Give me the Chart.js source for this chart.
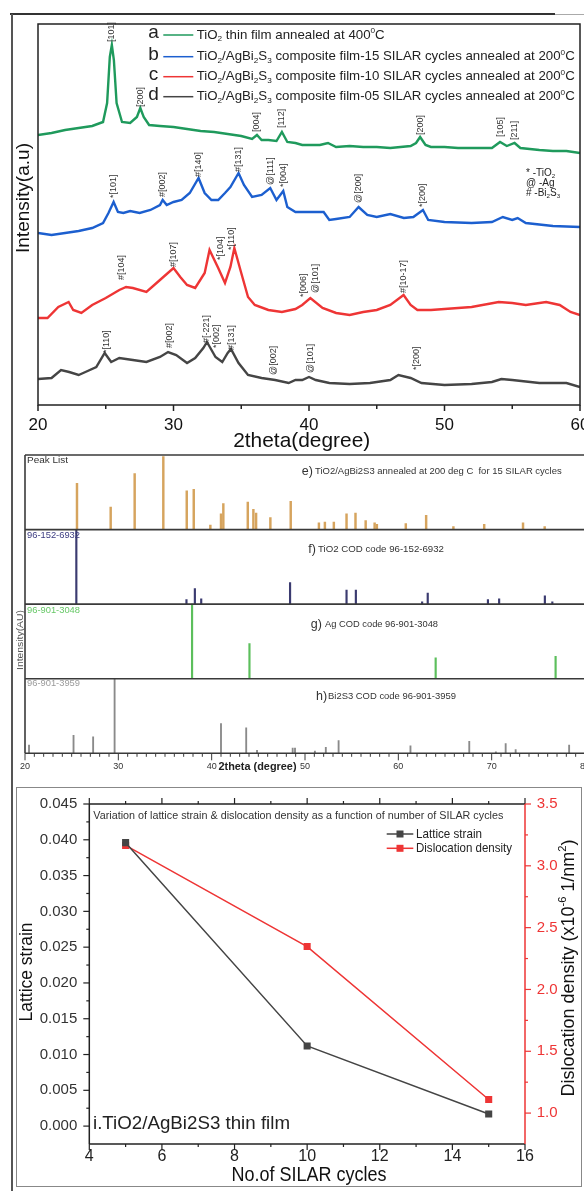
<!DOCTYPE html>
<html>
<head>
<meta charset="utf-8">
<script src="https://cdn.jsdelivr.net/npm/chart.js@4.4.1/dist/chart.umd.min.js"></script>
<style>
  html, body { margin: 0; padding: 0; background: #fff; width: 584px; height: 1191px; overflow: hidden; position: relative; }
  canvas { position: absolute; left: 0; }
  .rule { position: absolute; }
</style>
</head>
<body>
<div class="rule" style="left:10px;top:13px;width:545px;height:2px;background:#333"></div>
<div class="rule" style="left:555px;top:14px;width:29px;height:1px;background:#aaa"></div>
<div class="rule" style="left:11px;top:14px;width:1.5px;height:1177px;background:#555"></div>
<div class="rule" style="left:16px;top:787px;width:566px;height:400px;border:1px solid #888;box-sizing:border-box"></div>

<canvas id="xrdChart" width="600" height="460" style="top:0"></canvas>
<canvas id="refChart" width="600" height="345" style="top:440px"></canvas>
<canvas id="strainChart" width="584" height="411" style="top:780px"></canvas>

<script>
const FONT = "'Liberation Sans', Arial, sans-serif";

// ---- XRD patterns (2theta in degree, intensity in a.u.) ----
// a: TiO2 annealed at 400 C
const thetaA = [20,21,22,23,24,24.8,25.1,25.3,25.45,25.6,25.8,26.2,26.8,27.3,27.55,27.8,28.2,29,30,31,32,33,34,35,35.8,36.16,36.5,37,37.6,38,38.4,39,39.5,40,40.8,41.4,42,43,44,45,46,47.5,47.9,48.2,48.6,49,50,51,52,53.5,54.1,54.6,55.17,55.6,57,58,59,60];
const intA = [268,270,273,275,277,281,300,346,358,343,300,281,280,286,295,286,278,277,276,274,272,271,269,267,264,268,263,263,262,271,261,260,258,258,258,260,256,257,256,256,255,257,260,266,258,256,256,255,255,255,261,257,260,255,253,252,252,250];
// b: 15 SILAR cycles
const thetaB = [20,21,22,23,24,24.8,25.2,25.58,25.9,26.3,26.8,27.5,28.3,29,29.2,29.5,30,30.6,31.2,31.85,32.3,32.8,33.3,33.8,34.2,34.8,35.2,35.8,36.5,37.14,37.6,38.1,38.4,39,40,41.08,41.5,42,43,43.66,44.3,45,46,47,47.7,48.41,48.8,50,52,53.5,54.3,55,55.4,56,58,60];
const intB = [170,168,170,172,175,180,190,201,191,190,192,190,193,198,203,198,201,203,210,225,210,203,203,210,216,230,218,206,208,215,203,212,196,191,191,191,183,184,186,196,188,186,189,185,186,193,183,181,180,181,186,183,185,180,177,176];
// c: 10 SILAR cycles
const thetaC = [20,20.7,21.5,22.26,22.6,23.2,24,25,26,26.5,27,28,29,30,30.5,31,31.6,32.3,32.66,33.3,33.8,34.2,34.49,35,35.5,36,37,38,39,39.5,40.1,41,42,43,44,45,46,46.98,47.5,48,49,50,52,54,55,56,57.5,58.5,59.3,60];
const intC = [85,85,96,101,93,90,98,105,113,116,115,111,123,135,126,118,115,130,153,135,120,136,155,130,106,98,93,91,94,98,105,95,90,88,91,93,98,108,98,93,93,94,96,101,100,98,101,98,91,88];
// d: 05 SILAR cycles
const thetaD = [20,21,21.7,22.3,23,23.5,24.3,24.92,25.4,26,27,28,29,29.6,30.2,31,31.6,32.2,32.47,33.1,33.6,34,34.24,34.8,35.5,36.5,37.5,38.5,39,39.5,40,40.5,41.5,43,44.5,46,46.6,47.5,48.3,50,52,53.5,54.2,55,57,59,60];
const intD = [24,25,33,31,28,31,36,50,41,45,43,41,46,51,48,40,45,55,61,46,41,50,54,40,28,25,23,20,23,23,26,23,20,19,20,23,28,25,20,18,19,21,24,23,20,20,16];

// peak annotations on the XRD patterns
const peakText = ['[101]','[200]','[004]','[112]','[200]','[105]','[211]',
  '*[101]','#[002]','#[140]','#[131]','@[111]','*[004]','@[200]','*[200]',
  '#[104]','#[107]','*[104]','*[110]','*[006]','@[101]','#[10-17]',
  '*[110]','#[002]','#[-221]','*[002]','#[131]','@[002]','@[101]','*[200]'];
const peakTheta = [25.45,27.55,36.16,38.0,48.2,54.1,55.2, 25.58,29.2,31.85,34.8,37.14,38.1,43.66,48.41,
  26.2,30.0,33.45,34.25,39.6,40.46,46.98, 25.09,29.69,32.45,33.2,34.3,37.4,40.1,47.97];
const peakBase = [361,296,271,275,268,266,263, 205,206,226,231,218,216,200,196,
  123,136,143,153,106,110,110, 50,55,60,55,53,28,30,33];

// ---- reference stick patterns (2theta, relative height %) ----
const ePos = [25.57,29.18,31.75,34.82,37.33,38.08,39.86,41.0,41.25,43.87,44.47,44.76,46.29,48.47,51.49,52.13,53.09,54.45,55.41,56.5,57.46,57.7,60.8,62.98,65.9,69.2,73.36,75.68];
const eHt = [62,30,75,98,52,54,6,21,35,37,27,22,16,38,9,10,10,21,22,12,9,7,8,19,4,7,9,4];
const fPos = [25.5,37.3,38.2,38.88,48.4,54.45,55.45,62.55,63.15,69.6,70.8,75.7,76.5];
const fHt = [100,6,21,7,29,19,19,3,15,6,7,11,3];
const gPos = [37.9,44.05,64.0,76.85];
const gHt = [100,47,28,30];
const hPos = [20.43,25.2,27.3,29.6,41.0,43.7,44.86,48.68,48.93,51.06,52.23,53.6,61.3,67.6,70.45,71.5,72.57,78.3];
const hHt = [11,24,22,100,40,34,4,7,7,3,8,17,10,16,2,13,5,11];

// ---- lattice strain & dislocation density ----
const cycles = [5, 10, 15];
const strain = [0.0396, 0.0112, 0.0017];
const disloc = [3.165, 2.347, 1.11];

const GREEN = '#1f9a5c', BLUE = '#1c5fcf', RED = '#ee3535', DARK = '#454545';

function pts(xs, ys) { return xs.map((x, i) => ({ x: x, y: ys[i] })); }

function line(ctx, x1, y1, x2, y2) {
  ctx.beginPath(); ctx.moveTo(x1, y1); ctx.lineTo(x2, y2); ctx.stroke();
}

// text with sub (_) and super (^) script runs, optionally stretched to a width
function rich(ctx, parts, x, y, o) {
  if (typeof parts === 'string') parts = [parts];
  const fam = o.family || FONT, wt = o.weight || 'normal';
  ctx.save();
  const runs = parts.map(p => {
    const k = p[0] === '_' ? 1 : p[0] === '^' ? -1 : 0;
    const s = k ? p.slice(1) : p;
    const f = wt + ' ' + (k ? o.size * 0.62 : o.size) + 'px ' + fam;
    ctx.font = f;
    return { s: s, k: k, f: f, w: ctx.measureText(s).width };
  });
  const total = runs.reduce((t, r) => t + r.w, 0);
  ctx.translate(x, y);
  if (o.rotate) ctx.rotate(o.rotate);
  ctx.scale(o.width ? o.width / total : 1, 1);
  let cx = o.align === 'center' ? -total / 2 : o.align === 'right' ? -total : 0;
  ctx.fillStyle = o.color || '#222';
  ctx.textBaseline = 'middle';
  ctx.textAlign = 'left';
  runs.forEach(r => {
    ctx.font = r.f;
    ctx.fillText(r.s, cx, r.k > 0 ? o.size * 0.3 : r.k < 0 ? -o.size * 0.33 : 0);
    cx += r.w;
  });
  ctx.restore();
}

Chart.defaults.font.family = FONT;
Chart.defaults.animation = false;

// ================= top: XRD patterns =================
const xrdDecor = {
  id: 'xrdDecor',
  afterDatasetsDraw(chart) {
    const { ctx, chartArea: a, scales: { x, y } } = chart;
    ctx.save();
    ctx.strokeStyle = '#222';
    ctx.lineWidth = 1.5;
    ctx.strokeRect(a.left, a.top, a.right - a.left, a.bottom - a.top);
    for (let v = 20; v <= 60; v += 5) {
      const px = x.getPixelForValue(v);
      line(ctx, px, a.bottom, px, a.bottom + (v % 10 === 0 ? 6 : 4));
    }
    peakText.forEach((t, i) => {
      rich(ctx, t, x.getPixelForValue(peakTheta[i]), y.getPixelForValue(peakBase[i]),
        { size: 9, color: '#333', rotate: -Math.PI / 2 });
    });
    // legend
    const letters = ['a', 'b', 'c', 'd'];
    const cols = [GREEN, BLUE, RED, DARK];
    const rows = [35, 56.7, 76.7, 96.7];
    const texts = [
      ['TiO', '_2', ' thin film annealed at 400', '^0', 'C'],
      ['TiO', '_2', '/AgBi', '_2', 'S', '_3', ' composite film-15 SILAR cycles annealed at 200', '^0', 'C'],
      ['TiO', '_2', '/AgBi', '_2', 'S', '_3', ' composite film-10 SILAR cycles annealed at 200', '^0', 'C'],
      ['TiO', '_2', '/AgBi', '_2', 'S', '_3', ' composite film-05 SILAR cycles annealed at 200', '^0', 'C']
    ];
    rows.forEach((ry, i) => {
      rich(ctx, letters[i], 153.5, ry - 2, { size: 19, color: '#222', align: 'center' });
      ctx.strokeStyle = cols[i];
      ctx.lineWidth = 1.5;
      line(ctx, 163.3, ry, 193.3, ry);
      rich(ctx, texts[i], 196.7, ry, { size: 13, color: '#222', width: i === 0 ? 188 : 378 });
    });
    rich(ctx, ['* -TiO', '_2'], 526, 173, { size: 10, color: '#222' });
    rich(ctx, '@ -Ag', 526, 183, { size: 10, color: '#222' });
    rich(ctx, ['# -Bi', '_2', 'S', '_3'], 526, 193, { size: 10, color: '#222' });
    // axis titles
    rich(ctx, 'Intensity(a.u)', 24, 198, { size: 19, color: '#111', align: 'center', width: 110, rotate: -Math.PI / 2 });
    rich(ctx, '2theta(degree)', 301.7, 441.7, { size: 21, color: '#111', align: 'center', width: 137 });
    ctx.restore();
  }
};

new Chart(document.getElementById('xrdChart'), {
  type: 'line',
  data: {
    datasets: [
      { data: pts(thetaA, intA), borderColor: GREEN },
      { data: pts(thetaB, intB), borderColor: BLUE },
      { data: pts(thetaC, intC), borderColor: RED },
      { data: pts(thetaD, intD), borderColor: DARK }
    ].map(d => Object.assign(d, { borderWidth: 2.4, pointRadius: 0, tension: 0 }))
  },
  options: {
    responsive: false,
    layout: { padding: { left: 38, right: 20, top: 24, bottom: 0 } },
    plugins: { legend: { display: false }, tooltip: { enabled: false } },
    scales: {
      x: {
        type: 'linear', min: 20, max: 60,
        grid: { display: false, drawTicks: false },
        border: { display: false },
        ticks: { stepSize: 10, font: { size: 17 }, color: '#111', padding: 10 },
        afterFit: s => { s.height = 55; }
      },
      y: { display: false, min: -2, max: 379 }
    }
  },
  plugins: [xrdDecor]
});

// ================= middle: reference stick patterns =================
function sticks(pos, ht, base) { return pos.map((p, i) => ({ x: p, y: [base, base + ht[i]] })); }

const refDecor = {
  id: 'refDecor',
  afterDatasetsDraw(chart) {
    const { ctx, chartArea: a, scales: { x, y } } = chart;
    ctx.save();
    ctx.strokeStyle = '#3a3a3a';
    ctx.lineWidth = 1.6;
    [0, 100, 200, 300, 400].forEach(v => {
      const py = y.getPixelForValue(v);
      line(ctx, a.left, py, chart.width, py);
    });
    line(ctx, a.left, a.top, a.left, a.bottom);
    ctx.lineWidth = 1;
    for (let v = 20; v <= 80; v++) {
      const px = x.getPixelForValue(v);
      line(ctx, px, a.bottom, px, a.bottom + (v % 10 === 0 ? 7 : 3.5));
    }
    rich(ctx, 'Peak List', 27, 20.7, { size: 9, color: '#333', width: 41 });
    rich(ctx, '96-152-6932', 27, 95, { size: 9.5, color: '#3b3b80', width: 53 });
    rich(ctx, '96-901-3048', 27, 170, { size: 9.5, color: '#66c866', width: 53 });
    rich(ctx, '96-901-3959', 27, 243.3, { size: 9.5, color: '#9a9a9a', width: 53 });
    const heads = [['e)', 301.7, 31.7, 'TiO2/AgBi2S3 annealed at 200 deg C  for 15 SILAR cycles', 315, 246.7],
                   ['f)', 308.3, 109.3, 'TiO2 COD code 96-152-6932', 318, 126],
                   ['g)', 310.7, 184.3, 'Ag COD code 96-901-3048', 325, 113],
                   ['h)', 316, 256.7, 'Bi2S3 COD code 96-901-3959', 328, 128]];
    heads.forEach(h => {
      rich(ctx, h[0], h[1], h[2], { size: 12.5, color: '#333' });
      rich(ctx, h[3], h[4], h[2], { size: 9, color: '#333', width: h[5] });
    });
    rich(ctx, 'Intensity(AU)', 20, 200, { size: 9.5, color: '#555', align: 'center', width: 60, rotate: -Math.PI / 2 });
    rich(ctx, '2theta (degree)', 257.5, 326.7, { size: 10.5, weight: 'bold', color: '#222', align: 'center', width: 78 });
    ctx.restore();
  }
};

new Chart(document.getElementById('refChart'), {
  type: 'bar',
  data: {
    datasets: [
      { data: sticks(ePos, eHt, 300), backgroundColor: '#d6a45e', barThickness: 1.8 },
      { data: sticks(fPos, fHt, 200), backgroundColor: '#3b3b70', barThickness: 1.5 },
      { data: sticks(gPos, gHt, 100), backgroundColor: '#5cbf5c', barThickness: 1.5 },
      { data: sticks(hPos, hHt, 0), backgroundColor: '#8a8a8a', barThickness: 1.2 }
    ]
  },
  options: {
    responsive: false,
    grouped: false,
    layout: { padding: { left: 25, right: 15, top: 15, bottom: 0 } },
    plugins: { legend: { display: false }, tooltip: { enabled: false } },
    scales: {
      x: {
        type: 'linear', min: 20, max: 80, offset: false,
        grid: { display: false, drawTicks: false },
        border: { display: false },
        ticks: { stepSize: 10, font: { size: 9 }, color: '#333', padding: 8 },
        afterFit: s => { s.height = 31.7; }
      },
      y: { display: false, min: 0, max: 400 }
    }
  },
  plugins: [refDecor]
});

// ================= bottom: lattice strain & dislocation density =================
const strainDecor = {
  id: 'strainDecor',
  afterDatasetsDraw(chart) {
    const { ctx, chartArea: a, scales: { x, y, y1 } } = chart;
    ctx.save();
    ctx.lineWidth = 1.5;
    ctx.strokeStyle = '#222';
    line(ctx, a.left, a.top, a.right, a.top);
    line(ctx, a.left, a.bottom, a.right, a.bottom);
    line(ctx, a.left, a.top, a.left, a.bottom);
    ctx.strokeStyle = RED;
    line(ctx, a.right, a.top, a.right, a.bottom);
    ctx.lineWidth = 1.2;
    ctx.strokeStyle = '#222';
    for (let v = 4; v <= 16; v++) {
      const px = x.getPixelForValue(v), len = v % 2 === 0 ? 6 : 3;
      line(ctx, px, a.bottom, px, a.bottom + len);
      line(ctx, px, a.top, px, a.top - len);
    }
    for (let k = 0; k <= 18; k++) {
      const py = y.getPixelForValue(k * 0.0025);
      line(ctx, a.left, py, a.left - (k % 2 === 0 ? 6 : 3), py);
    }
    ctx.strokeStyle = RED;
    for (let k = 1; k <= 11; k++) {
      const py = y1.getPixelForValue(0.75 + k * 0.25);
      line(ctx, a.right, py, a.right + (k % 2 === 1 ? 6 : 3), py);
    }
    // legend
    [[DARK, 'Lattice strain', 54, 66], [RED, 'Dislocation density', 68.3, 96]].forEach(r => {
      ctx.strokeStyle = r[0];
      ctx.fillStyle = r[0];
      ctx.lineWidth = 1.5;
      line(ctx, 386.7, r[2], 413.3, r[2]);
      ctx.fillRect(396.5, r[2] - 3.5, 7, 7);
      rich(ctx, r[1], 416, r[2], { size: 13, color: '#222', width: r[3] });
    });
    rich(ctx, 'Variation of lattice strain & dislocation density as a function of number of SILAR cycles',
      93.3, 36, { size: 10, color: '#333', width: 410 });
    rich(ctx, 'i.TiO2/AgBi2S3 thin film', 93, 343.3, { size: 19, color: '#222', width: 197 });
    rich(ctx, 'Lattice strain', 26.5, 192, { size: 19, color: '#111', align: 'center', width: 99, rotate: -Math.PI / 2 });
    rich(ctx, ['Dislocation density (x10', '^-6', ' 1/nm', '^2', ')'], 569, 188,
      { size: 19, color: '#111', align: 'center', width: 257, rotate: -Math.PI / 2 });
    rich(ctx, 'No.of SILAR cycles', 309, 395, { size: 20, color: '#111', align: 'center', width: 155 });
    ctx.restore();
  }
};

new Chart(document.getElementById('strainChart'), {
  type: 'line',
  data: {
    datasets: [
      { label: 'Lattice strain', data: pts(cycles, strain), yAxisID: 'y',
        borderColor: DARK, backgroundColor: DARK },
      { label: 'Dislocation density', data: pts(cycles, disloc), yAxisID: 'y1',
        borderColor: RED, backgroundColor: RED }
    ].map(d => Object.assign(d, { borderWidth: 1.5, pointStyle: 'rect', pointRadius: 5, pointBorderWidth: 0, tension: 0 }))
  },
  options: {
    responsive: false,
    layout: { padding: { left: 0, right: 0, top: 24, bottom: 0 } },
    plugins: { legend: { display: false }, tooltip: { enabled: false } },
    scales: {
      x: {
        type: 'linear', min: 4, max: 16,
        grid: { display: false, drawTicks: false },
        border: { display: false },
        ticks: { stepSize: 2, font: { size: 16 }, color: '#222', padding: 3 },
        afterFit: s => { s.height = 47; }
      },
      y: {
        position: 'left', min: -0.0025, max: 0.045,
        grid: { display: false, drawTicks: false },
        border: { display: false },
        ticks: { stepSize: 0.005, includeBounds: false, font: { size: 15 }, color: '#333', padding: 12,
          callback: v => v.toFixed(3) },
        afterFit: s => { s.width = 89.3; }
      },
      y1: {
        position: 'right', min: 0.75, max: 3.5,
        grid: { display: false, drawTicks: false },
        border: { display: false },
        ticks: { stepSize: 0.5, includeBounds: false, font: { size: 15 }, color: RED, padding: 11.7,
          callback: v => v.toFixed(1) },
        afterFit: s => { s.width = 59; }
      }
    }
  },
  plugins: [strainDecor]
});
</script>
</body>
</html>
